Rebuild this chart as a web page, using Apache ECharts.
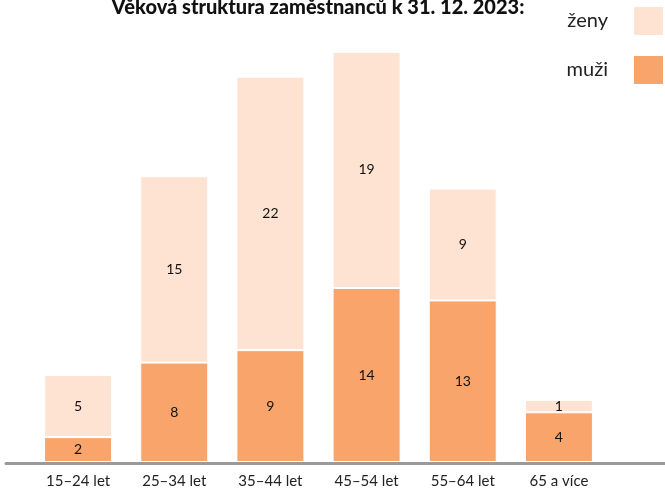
<!DOCTYPE html>
<html>
<head>
<meta charset="utf-8">
<script src="https://cdn.jsdelivr.net/npm/echarts@6/dist/echarts.min.js"></script>
<style>html,body{margin:0;padding:0;background:#fff}#c{width:665px;height:489px}</style>
</head>
<body>
<div id="c"></div>
<script>
const titleText = 'Věková struktura zaměstnanců k 31. 12. 2023:';
const categories = ['15–24 let', '25–34 let', '35–44 let', '45–54 let', '55–64 let', '65 a více'];
const muzi = [2, 8, 9, 14, 13, 4];
const zeny = [5, 15, 22, 19, 9, 1];
const seriesNames = ['muži', 'ženy'];

const FONT = 'Lato, "Noto Sans", sans-serif';
const chart = echarts.init(document.getElementById('c'), null, {renderer: 'canvas'});
chart.setOption({
  animation: false,
  backgroundColor: '#fff',
  title: {
    text: titleText,
    left: 313, textAlign: 'center',
    top: -7,
    textStyle: {fontFamily: FONT, fontSize: 20, fontWeight: 900, color: '#111'}
  },
  legend: {
    orient: 'vertical',
    right: 0, top: 5, padding: 0,
    align: 'right',
    data: ['ženy', 'muži'],
    itemWidth: 31, itemHeight: 30, itemGap: 17,
    icon: 'rect',
    textStyle: {fontFamily: FONT, fontSize: 20, color: '#222', padding: [4, 20, 0, 0]}
  },
  grid: [
    {left: 30, right: 58, top: 27, bottom: 26},
    {left: 6, right: 0, top: 27, bottom: 26}
  ],
  xAxis: [
    {
      type: 'category', data: categories, gridIndex: 0,
      axisLine: {show: false}, axisTick: {show: false},
      axisLabel: {fontFamily: FONT, fontSize: 15, color: '#222', margin: 12}
    },
    {
      type: 'value', gridIndex: 1, min: 0, max: 1,
      axisLine: {show: true, lineStyle: {color: '#9a9a9a', width: 3}},
      axisTick: {show: false}, axisLabel: {show: false}, splitLine: {show: false}
    }
  ],
  yAxis: [
    {type: 'value', gridIndex: 0, min: 0, max: 35, show: false, splitLine: {show: false}},
    {type: 'value', gridIndex: 1, min: 0, max: 35, show: false, splitLine: {show: false}}
  ],
  series: [
    {
      name: seriesNames[0], type: 'bar', stack: 'a', data: muzi,
      barWidth: '70.7%',
      itemStyle: {color: '#F8A46B', borderColor: '#fff', borderWidth: 1},
      label: {show: true, position: 'inside', fontFamily: FONT, fontSize: 14, color: '#111'}
    },
    {
      name: seriesNames[1], type: 'bar', stack: 'a', data: zeny,
      barWidth: '70.7%',
      itemStyle: {color: '#FEE3D2', borderColor: '#fff', borderWidth: 1},
      label: {show: true, position: 'inside', fontFamily: FONT, fontSize: 14, color: '#111'}
    }
  ]
});
</script>
</body>
</html>
